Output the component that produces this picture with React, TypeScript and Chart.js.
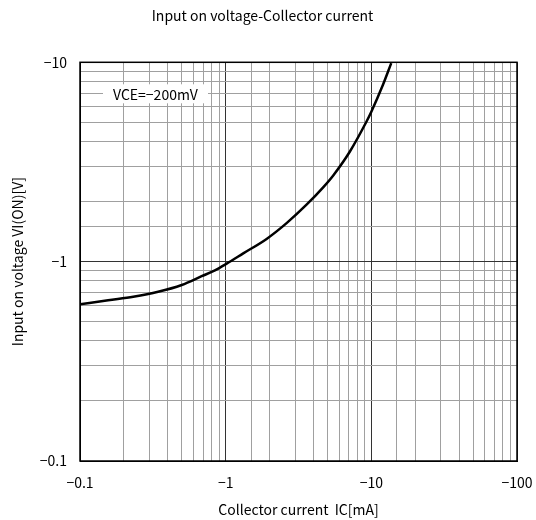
import React, { useEffect, useRef } from "react";
import { Chart, registerables } from "chart.js";

Chart.register(...registerables);

// Collector current magnitude (mA) and input-on voltage magnitude (V)
const IC_MA = [0.1, 0.156, 0.232, 0.344, 0.499, 0.684, 0.844, 1.01, 1.32, 1.91, 2.62, 3.59, 4.67, 5.46, 7.11, 9.25, 10, 12, 13.7];
const VI_V = [0.611, 0.641, 0.667, 0.706, 0.764, 0.845, 0.905, 0.975, 1.1, 1.3, 1.56, 1.93, 2.36, 2.7, 3.56, 5.03, 5.65, 7.69, 9.9];

const X_MAJOR = [0.1, 1, 10, 100];
const Y_MAJOR = [0.1, 1, 10];
const X_LABELS = ["\u22120.1", "\u22121", "\u221210", "\u2212100"];
const Y_LABELS = ["\u22120.1", "\u22121", "\u221210"];

const TITLE = "Input on voltage-Collector current";
const X_TITLE = "Collector current  IC[mA]";
const Y_TITLE = "Input on voltage VI(ON)[V]";
const CONDITION = "VCE=\u2212200mV";

const FONT = "'Noto Sans CJK JP', 'Noto Sans', sans-serif";
const FS = 14;

const near = (a: number, b: number) => Math.abs(Math.log10(a) - Math.log10(b)) < 1e-6;
const isDecade = (v: number) => {
  const l = Math.log10(v);
  return Math.abs(l - Math.round(l)) < 1e-6;
};

const framePlugin = {
  id: "frame",
  beforeDatasetsDraw(chart: any) {
    const { ctx, chartArea: a } = chart;
    ctx.save();
    const bx = a.left + 23;
    const by = a.top + 22;
    ctx.fillStyle = "#fff";
    ctx.fillRect(bx, by, 105, 19);
    ctx.fillStyle = "#000";
    ctx.font = `${FS}px ${FONT}`;
    ctx.textAlign = "left";
    ctx.textBaseline = "middle";
    ctx.fillText(CONDITION, bx + 10, by + 10);
    ctx.restore();
  },
  afterDraw(chart: any) {
    const { ctx, chartArea: a } = chart;
    ctx.save();
    ctx.strokeStyle = "#000";
    ctx.lineWidth = 1.5;
    ctx.strokeRect(a.left, a.top, a.right - a.left, a.bottom - a.top);
    ctx.restore();
  },
};

export default function App() {
  const ref = useRef<HTMLCanvasElement>(null);

  useEffect(() => {
    if (!ref.current) return;
    const gridColor = (c: any) => (isDecade(c.tick.value) ? "#333" : "#a0a0a0");
    const chart = new Chart(ref.current, {
      type: "line",
      data: {
        datasets: [
          {
            data: IC_MA.map((x, i) => ({ x, y: VI_V[i] })),
            borderColor: "#000",
            borderWidth: 2.5,
            pointRadius: 0,
            cubicInterpolationMode: "monotone",
          },
        ],
      },
      options: {
        animation: false,
        responsive: false,
        layout: { padding: { left: 8, right: 19, top: 0, bottom: 0 } },
        plugins: {
          legend: { display: false },
          tooltip: { enabled: false },
          title: {
            display: true,
            text: TITLE,
            color: "#000",
            font: { family: FONT, size: FS, weight: "normal" },
            padding: { top: 7.6, bottom: 37.9 },
          },
        },
        scales: {
          x: {
            type: "logarithmic",
            min: 0.1,
            max: 100,
            afterFit: (s: any) => {
              s.height = 59;
              s.paddingLeft = 0;
              s.paddingRight = 0;
            },
            grid: { drawTicks: false, color: gridColor, lineWidth: 1 },
            border: { display: true, color: "#000" },
            ticks: {
              autoSkip: false,
              maxRotation: 0,
              padding: 13,
              color: "#000",
              font: { family: FONT, size: FS },
              callback: (v: any) => {
                const i = X_MAJOR.findIndex((m) => near(m, Number(v)));
                return i >= 0 ? X_LABELS[i] : "";
              },
            },
            title: {
              display: true,
              text: X_TITLE,
              color: "#000",
              font: { family: FONT, size: FS },
              padding: { top: 0, bottom: 1.6 },
            },
          },
          y: {
            type: "logarithmic",
            min: 0.1,
            max: 10,
            afterFit: (s: any) => {
              s.width = 72;
              s.paddingTop = 0;
              s.paddingBottom = 0;
            },
            grid: { drawTicks: false, color: gridColor, lineWidth: 1 },
            border: { display: true, color: "#000" },
            ticks: {
              autoSkip: false,
              padding: 13,
              color: "#000",
              font: { family: FONT, size: FS },
              callback: (v: any) => {
                const i = Y_MAJOR.findIndex((m) => near(m, Number(v)));
                return i >= 0 ? Y_LABELS[i] : "";
              },
            },
            title: {
              display: true,
              text: Y_TITLE,
              color: "#000",
              font: { family: FONT, size: FS },
              padding: { top: 1.6, bottom: 0 },
            },
          },
        },
      } as any,
      plugins: [framePlugin],
    });
    return () => chart.destroy();
  }, []);

  return (
    <div style={{ position: "fixed", left: 0, top: 0, width: 536, height: 520, background: "#fff" }}>
      <canvas ref={ref} width={536} height={520} style={{ width: 536, height: 520 }} />
    </div>
  );
}
